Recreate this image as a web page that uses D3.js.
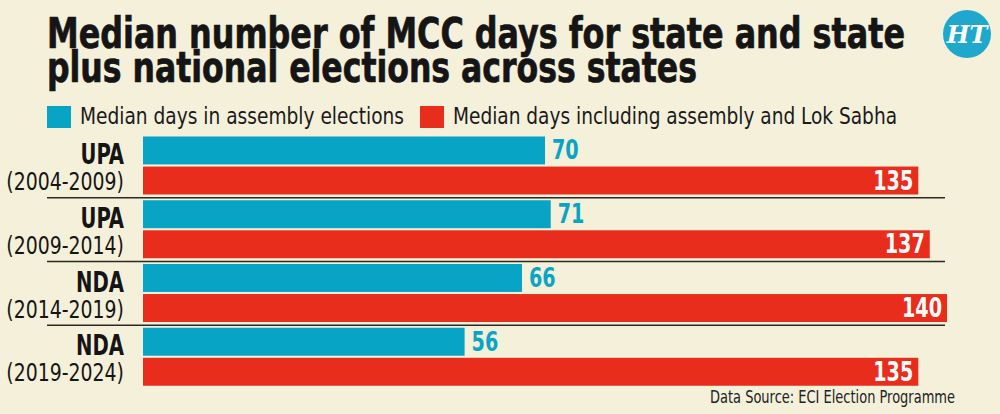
<!DOCTYPE html>
<html>
<head>
<meta charset="utf-8">
<script src="https://cdn.jsdelivr.net/npm/d3@7"></script>
<style>
  html, body { margin:0; padding:0; background:#f5f0da; }
  svg { display:block; }
  text { font-family:"Liberation Sans Narrow","DejaVu Sans Condensed","DejaVu Sans",sans-serif; font-stretch:condensed; }
</style>
</head>
<body>
<script>
  const width = 1000, height = 414;

  // data
  const parties = ["UPA", "UPA", "NDA", "NDA"];
  const periods = ["(2004-2009)", "(2009-2014)", "(2014-2019)", "(2019-2024)"];
  const assembly = [70, 71, 66, 56];
  const combined = [135, 137, 140, 135];
  const seriesNames = ["Median days in assembly elections", "Median days including assembly and Lok Sabha"];
  const seriesColors = ["#07a4c6", "#e82d1c"];
  const titleLines = ["Median number of MCC days for state and state", "plus national elections across states"];
  const source = "Data Source: ECI Election Programme";

  const svg = d3.select("body").append("svg")
      .attr("width", width)
      .attr("height", height);

  svg.append("rect").attr("width", width).attr("height", height).attr("fill", "#f5f0da");

  // title
  const titleLen = [858, 650];
  svg.selectAll("text.title")
    .data(titleLines)
    .enter().append("text")
      .attr("class", "title")
      .attr("x", 47)
      .attr("y", (d, i) => 48 + i * 34)
      .attr("textLength", (d, i) => titleLen[i])
      .attr("lengthAdjust", "spacingAndGlyphs")
      .attr("font-size", 42)
      .attr("font-weight", "bold")
      .attr("fill", "#151515")
      .attr("stroke", "#151515").attr("stroke-width", 0.7)
      .text(d => d);

  // HT logo
  const logo = svg.append("g").attr("transform", "translate(967,34)");
  logo.append("circle").attr("r", 24).attr("fill", "#1fa8cc");
  logo.append("text")
      .attr("text-anchor", "middle")
      .attr("y", 9)
      .attr("font-size", 24)
      .attr("font-weight", "bold")
      .attr("font-style", "italic")
      .style("font-family", "'DejaVu Serif', serif")
      .style("font-stretch", "normal")
      .attr("fill", "#fff")
      .text("HT");

  // legend
  const legX = [47, 420], legTextLen = [324, 444];
  const leg = svg.selectAll("g.leg")
    .data(seriesNames)
    .enter().append("g")
      .attr("class", "leg")
      .attr("transform", (d, i) => "translate(" + legX[i] + ",106)");
  leg.append("rect")
      .attr("width", 24).attr("height", 22)
      .attr("fill", (d, i) => seriesColors[i]);
  leg.append("text")
      .attr("x", 33).attr("y", 18)
      .attr("font-size", 23)
      .attr("fill", "#1a1a1a")
      .attr("textLength", (d, i) => legTextLen[i])
      .attr("lengthAdjust", "spacingAndGlyphs")
      .text(d => d);

  // scales
  const x = d3.scaleLinear().domain([0, 140]).range([143, 947]);
  const y = d3.scaleBand().domain(d3.range(parties.length)).range([134, 389]);
  const yInner = d3.scaleBand().domain([0, 1]).range([2.5, 60.5]).paddingInner(0.07);

  const rows = parties.map((p, i) => ({ i, party: p, period: periods[i], vals: [assembly[i], combined[i]] }));

  const g = svg.selectAll("g.row")
    .data(rows)
    .enter().append("g")
      .attr("class", "row")
      .attr("transform", d => "translate(0," + y(d.i) + ")");

  // separators between groups
  g.filter(d => d.i < parties.length - 1).append("line")
      .attr("x1", 47).attr("x2", 945)
      .attr("y1", y.step()).attr("y2", y.step())
      .attr("stroke", "#2a2a24").attr("stroke-width", 1.6);

  g.append("text")
      .attr("transform", "translate(124,30) scale(0.78,1)")
      .attr("text-anchor", "end")
      .attr("font-size", 28).attr("font-weight", "bold")
      .attr("fill", "#151515")
      .text(d => d.party);
  g.append("text")
      .attr("transform", "translate(124,56) scale(0.84,1)")
      .attr("text-anchor", "end")
      .attr("font-size", 25)
      .attr("fill", "#151515")
      .text(d => d.period);

  const bars = g.selectAll("g.bar")
    .data(d => d.vals.map((v, k) => ({ v, k })))
    .enter().append("g").attr("class", "bar");

  bars.append("rect")
      .attr("x", x(0))
      .attr("y", d => yInner(d.k))
      .attr("width", d => x(d.v) - x(0))
      .attr("height", yInner.bandwidth())
      .attr("fill", d => seriesColors[d.k]);

  bars.append("text")
      .attr("transform", d => "translate(" + (d.k === 0 ? x(d.v) + 7 : x(d.v) - 5) + "," +
            (yInner(d.k) + yInner.bandwidth() / 2 + 9) + ") scale(0.82,1)")
      .attr("text-anchor", d => d.k === 0 ? "start" : "end")
      .attr("font-size", 26).attr("font-weight", "bold")
      .attr("fill", d => d.k === 0 ? seriesColors[0] : "#fff")
      .text(d => d.v);

  // source
  svg.append("text")
      .attr("x", 710).attr("y", 403)
      .attr("textLength", 245)
      .attr("lengthAdjust", "spacingAndGlyphs")
      .attr("font-size", 17)
      .attr("fill", "#222")
      .text(source);
</script>
</body>
</html>
